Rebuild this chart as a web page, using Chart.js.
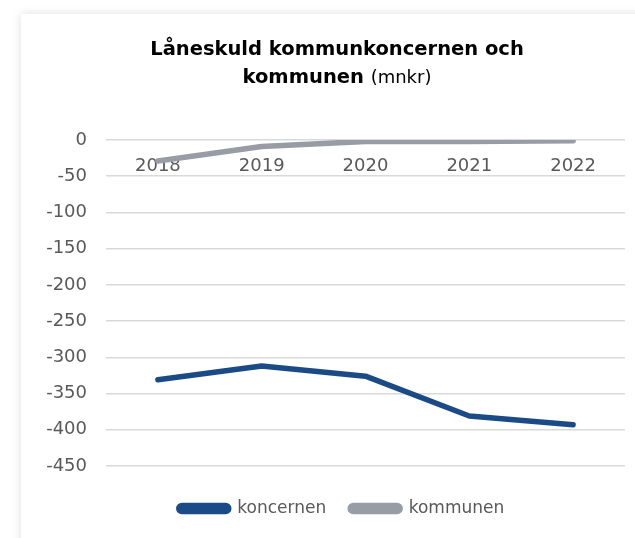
<!DOCTYPE html>
<html>
<head>
<meta charset="utf-8">
<script src="https://cdn.jsdelivr.net/npm/chart.js@4.4.0/dist/chart.umd.min.js"></script>
<style>
  html, body { margin: 0; padding: 0; background: #ffffff; }
  body { width: 635px; height: 538px; position: relative; overflow: hidden; }
  #card { position: absolute; left: 21px; top: 14px; width: 700px; height: 600px; background: #fff;
          box-shadow: 0 0 9px rgba(0,0,0,0.13); }
  #wrap { position: absolute; left: 0; top: 0; width: 635px; height: 538px; }
  .title { position: absolute; left: 0; width: 674px; text-align: center; color: #000;
           font-family: "DejaVu Sans", sans-serif; white-space: nowrap; }
  #t1 { top: 37px; font-size: 19.5px; font-weight: bold; }
  #t2 { top: 65px; font-size: 19.5px; font-weight: bold; }
  #t2 span { font-weight: normal; font-size: 18px; }
</style>
</head>
<body>
<div id="card"></div>
<div id="wrap"><canvas id="c" width="635" height="538"></canvas></div>
<div class="title" id="t1">Låneskuld kommunkoncernen och</div>
<div class="title" id="t2">kommunen <span>(mnkr)</span></div>
<script>
const categories = ["2018", "2019", "2020", "2021", "2022"];
const koncernen = [-331, -312, -326, -381, -393];
const kommunen = [-29, -9, -2, -2, -1];
const yMin = -450;
const yMax = 0;
const yStep = 50;

const blue = "#1b4b87";
const gray = "#979ca5";
const font = "'DejaVu Sans', sans-serif";

const legendShift = {
  id: "legendShift",
  afterLayout(chart) {
    const l = chart.legend;
    if (!l) return;
    l.left += 24; l.right += 24;
    l.top += 10; l.bottom += 10;
  }
};

new Chart(document.getElementById("c"), {
  type: "line",
  data: {
    labels: categories,
    datasets: [
      { label: "koncernen", data: koncernen, borderColor: blue, backgroundColor: blue,
        borderWidth: 5.5, pointRadius: 0, pointHoverRadius: 0, tension: 0,
        borderCapStyle: "round", borderJoinStyle: "round" },
      { label: "kommunen", data: kommunen, borderColor: gray, backgroundColor: gray,
        borderWidth: 5.5, pointRadius: 0, pointHoverRadius: 0, tension: 0,
        borderCapStyle: "round", borderJoinStyle: "round" }
    ]
  },
  plugins: [legendShift],
  options: {
    responsive: false,
    animation: false,
    events: [],
    layout: { padding: { top: 140, left: 10, right: 10, bottom: 21 } },
    plugins: {
      tooltip: { enabled: false },
      title: { display: false },
      legend: {
        position: "bottom",
        labels: {
          color: "#595959",
          font: { family: font, size: 17 },
          boxWidth: 50, boxHeight: 6,
          useBorderRadius: true, borderRadius: 3,
          padding: 24
        }
      }
    },
    scales: {
      x: {
        type: "category",
        position: { y: 0 },
        offset: true,
        grid: { display: false, drawTicks: false },
        border: { display: false },
        ticks: { color: "#595959", font: { family: font, size: 18 }, padding: 16, maxRotation: 0 }
      },
      y: {
        min: yMin, max: yMax,
        ticks: { stepSize: yStep, color: "#595959", font: { family: font, size: 18 }, padding: 19 },
        grid: { color: "#d9d9d9", lineWidth: 1.5, drawTicks: false },
        border: { display: false },
        afterFit: (s) => { s.width = 96; }
      }
    }
  }
});
</script>
</body>
</html>
